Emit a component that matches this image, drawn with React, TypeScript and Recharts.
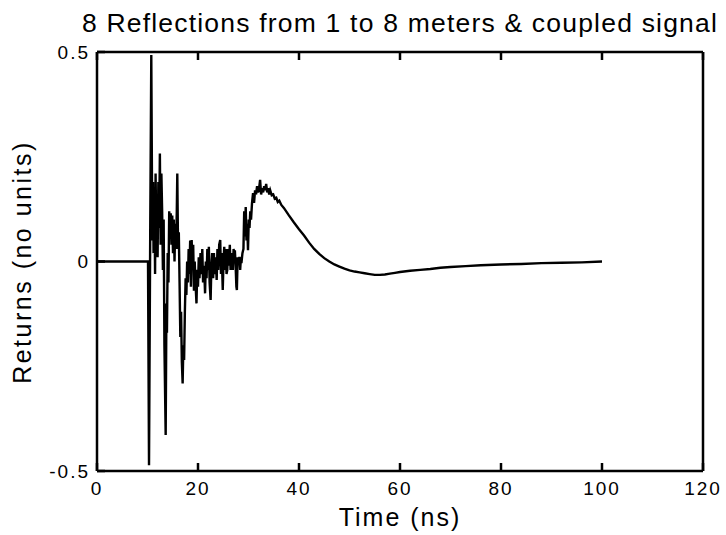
import { LineChart, Line, XAxis, YAxis } from 'recharts'

// signal (time in ns, returns without units)
const timeNs = [
  0, 10.1, 10.3, 10.55, 10.75, 10.95, 11.1, 11.2, 11.35, 11.5, 11.6, 11.75, 11.9, 12.0, 12.15, 12.3,
  12.45, 12.6, 12.75, 12.9, 13.05, 13.2, 13.35, 13.6, 13.75, 13.85, 14.0, 14.15, 14.3, 14.45, 14.6,
  14.75, 14.9, 15.05, 15.2, 15.35, 15.5, 15.65, 15.8, 15.9, 16.05, 16.2, 16.35, 16.5, 16.65, 16.8,
  16.96, 17.1, 17.25, 17.4, 17.55, 17.7, 17.85, 18.0, 18.15, 18.3, 18.45, 18.6, 18.75, 18.9, 19.05,
  19.2, 19.35, 19.5, 19.7, 19.85, 20.0, 20.15, 20.3, 20.5, 20.7, 20.85, 21.0, 21.2, 21.4, 21.55,
  21.7, 21.85, 22.0, 22.15, 22.3, 22.5, 22.65, 22.8, 23.0, 23.15, 23.3, 23.5, 23.7, 23.85, 24.0,
  24.2, 24.4, 24.55, 24.7, 24.9, 25.05, 25.2, 25.35, 25.5, 25.65, 25.8, 25.95, 26.1, 26.3, 26.45,
  26.6, 26.75, 26.9, 27.05, 27.2, 27.3, 27.45, 27.6, 27.7, 27.85, 28.0, 28.2, 28.35, 28.5, 28.6,
  28.8, 29.0, 29.15, 29.3, 29.45, 29.6, 29.75, 29.9, 30.05, 30.2, 30.35, 30.5, 30.7, 30.9, 31.1,
  31.3, 31.5, 31.7, 31.9, 32.1, 32.3, 32.5, 32.7, 32.9, 33.1, 33.3, 33.5, 33.7, 33.9, 34.1, 34.3,
  34.6, 34.9, 35.2, 35.5, 35.8, 36.1, 36.5, 37, 38, 39, 40, 41, 42, 43, 44, 45, 46, 47, 48, 49, 50,
  51, 52, 53, 54, 55, 56, 57, 58, 59, 60, 62, 64, 66, 68, 70, 73, 76, 80, 84, 88, 92, 96, 100,
]

const returns = [
  0, 0, -0.486, 0.1, 0.493, 0.05, 0.19, 0.02, 0.17, -0.03, 0.21, 0.06, 0.16, 0.01, 0.19, 0.08,
  0.258, 0.04, 0.21, 0.12, -0.02, 0.1, -0.2, -0.414, -0.1, -0.17, 0.02, -0.05, 0.12, 0.06, 0.115,
  0.04, 0.11, 0.02, 0.1, 0.0, 0.09, 0.03, 0.12, 0.21, 0.03, 0.07, -0.05, -0.18, -0.12, -0.24,
  -0.291, -0.2, -0.235, -0.12, -0.04, -0.08, 0.0, -0.05, 0.03, -0.03, 0.05, -0.06, 0.051, -0.02, 0.04,
  -0.07, 0.0, -0.05, -0.1, -0.02, -0.06, 0.01, -0.04, 0.02, -0.03, 0.03, -0.05, -0.01, -0.076, 0.0,
  -0.04, 0.03, -0.02, 0.035, -0.05, -0.092, -0.01, 0.02, -0.04, 0.02, -0.03, 0.01, -0.044, 0.03, -0.02,
  0.04, 0.051, -0.03, 0.02, -0.068, 0.0, 0.035, -0.02, 0.03, -0.03, -0.02, 0.03, -0.01, 0.04, -0.02,
  0.02, -0.01, -0.02, 0.03, 0.0, 0.027, -0.01, -0.06, -0.068, 0.01, 0.0, 0.011, -0.02, 0.01, -0.004,
  0.02, 0.03, 0.12, 0.06, 0.13, 0.05, 0.09, 0.027, 0.1, 0.08, 0.12, 0.1, 0.14, 0.163, 0.14,
  0.17, 0.16, 0.18, 0.165, 0.175, 0.195, 0.16, 0.175, 0.165, 0.18, 0.17, 0.185, 0.165, 0.175, 0.16, 0.17,
  0.158, 0.16, 0.15, 0.152, 0.142, 0.145, 0.135, 0.128, 0.11, 0.093, 0.077, 0.062, 0.045, 0.03, 0.018, 0.008, 0.0, -0.007, -0.012, -0.017, -0.021,
  -0.024, -0.026, -0.028, -0.03, -0.032, -0.032, -0.031, -0.029, -0.027, -0.025, -0.022, -0.02, -0.018, -0.015, -0.013, -0.011, -0.009, -0.007, -0.006, -0.004, -0.003, -0.002, 0.0,
]

const xTicks = [0, 20, 40, 60, 80, 100, 120]
const yTicks = [-0.5, 0, 0.5]

const data = timeNs.map((t, i) => ({ t, v: returns[i] }))

const font = 'Liberation Sans, Arial, Helvetica, sans-serif'
const axisLine = { stroke: '#000', strokeWidth: 2.5 }
const TICK = 8 // inward tick length
const X_GAP = 11
const Y_GAP = 7

// MATLAB-style ticks: short marks pointing into the plot, label outside
const BottomTick = ({ x, y, payload }: any) => (
  <g>
    <line x1={x} x2={x} y1={y - X_GAP} y2={y - X_GAP - TICK} stroke="#000" strokeWidth={2.5} />
    <text x={x} y={y} dy="0.71em" textAnchor="middle" fontSize={19} letterSpacing={2}
      fontFamily={font} fill="#000">{payload.value}</text>
  </g>
)
const TopTick = ({ x, y }: any) => (
  <line x1={x} x2={x} y1={y} y2={y + TICK} stroke="#000" strokeWidth={2.5} />
)
const LeftTick = ({ x, y, payload }: any) => (
  <g>
    <line x1={x + Y_GAP} x2={x + Y_GAP + TICK} y1={y} y2={y} stroke="#000" strokeWidth={2.5} />
    <text x={x} y={y} dy="0.36em" textAnchor="end" fontSize={19} letterSpacing={2}
      fontFamily={font} fill="#000">{String(payload.value)}</text>
  </g>
)
const RightTick = ({ x, y }: any) => (
  <line x1={x} x2={x - TICK} y1={y} y2={y} stroke="#000" strokeWidth={2.5} />
)

export default function App() {
  return (
    <div style={{ position: 'absolute', left: 0, top: 0, width: 726, height: 535, background: '#fff' }}>
      <LineChart width={726} height={535} data={data} margin={{ top: 0, right: 0, bottom: 0, left: 0 }}>
        <XAxis xAxisId="b" dataKey="t" type="number" domain={[0, 120]} ticks={xTicks}
          height={64} tickSize={0} tickMargin={X_GAP} axisLine={axisLine} tickLine={false} tick={<BottomTick />} />
        <XAxis xAxisId="t" orientation="top" dataKey="t" type="number" domain={[0, 120]} ticks={xTicks}
          height={52} tickSize={0} tickMargin={0} axisLine={axisLine} tickLine={false} tick={<TopTick />} />
        <YAxis yAxisId="l" type="number" domain={[-0.5, 0.5]} ticks={yTicks} width={97}
          tickSize={0} tickMargin={Y_GAP} axisLine={axisLine} tickLine={false} tick={<LeftTick />} />
        <YAxis yAxisId="r" orientation="right" type="number" domain={[-0.5, 0.5]} ticks={yTicks} width={23}
          tickSize={0} tickMargin={0} axisLine={axisLine} tickLine={false} tick={<RightTick />} />
        <Line xAxisId="b" yAxisId="l" type="linear" dataKey="v" stroke="#000" strokeWidth={2.4}
          dot={false} isAnimationActive={false} />
      </LineChart>
      <svg width={726} height={535} style={{ position: 'absolute', left: 0, top: 0, pointerEvents: 'none' }}>
        <text x={400} y={32} textAnchor="middle" fontSize={26.5} letterSpacing={1.2} fontFamily={font} fill="#000">
          8 Reflections from 1 to 8 meters &amp; coupled signal
        </text>
        <text x={400} y={526} textAnchor="middle" fontSize={25} letterSpacing={2} fontFamily={font} fill="#000">
          Time (ns)
        </text>
        <text x={31} y={262} textAnchor="middle" fontSize={25} letterSpacing={2.5} fontFamily={font} fill="#000"
          transform="rotate(-90 31 262)">
          Returns (no units)
        </text>
      </svg>
    </div>
  )
}
